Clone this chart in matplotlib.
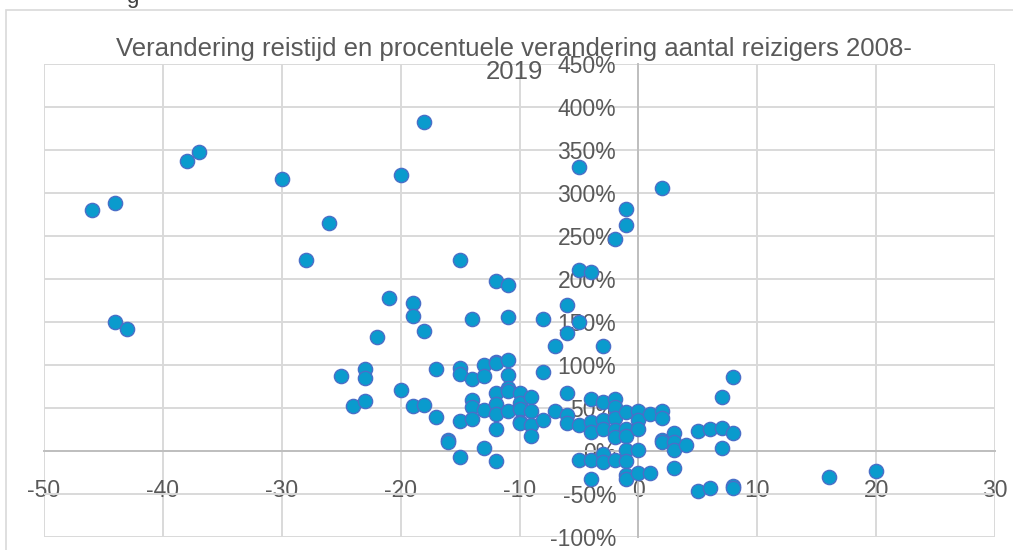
import matplotlib.pyplot as plt
from matplotlib.patches import Rectangle
from matplotlib.ticker import FuncFormatter

plt.rcParams['font.family'] = ['Liberation Sans', 'DejaVu Sans']
plt.rcParams['axes.unicode_minus'] = False

# verandering reistijd (min) per traject en bijbehorende verandering reizigers (%)
reistijd = [
    -46, -44, -44, -43, -38, -37, -30, -28, -26, -25, -24,
    -23, -23, -23, -22, -21, -20, -20,
    -19, -19, -19, -18, -18, -18, -17, -17, -16, -16,
    -15, -15, -15, -15, -15,
    -14, -14, -14, -14, -14,
    -13, -13, -13, -13,
    -12, -12, -12, -12, -12, -12, -12, -12,
    -11, -11, -11, -11, -11, -11, -11,
    -10, -10, -10, -10, -10,
    -9, -9, -9, -9,
    -8, -8, -8, -7, -7,
    -6, -6, -6, -6, -6,
    -5, -5, -5, -5, -5,
    -4, -4, -4, -4, -4, -4,
    -3, -3, -3, -3, -3, -3,
    -2, -2, -2, -2, -2, -2, -2,
    -1, -1, -1, -1, -1, -1, -1, -1, -1,
    0, 0, 0, 0, 0,
    1, 1,
    2, 2, 2, 2, 2,
    3, 3, 3, 3,
    4, 5, 5, 6, 6,
    7, 7, 7,
    8, 8, 8, 8,
    16, 20,
]
reizigers = [
    280, 288, 150, 142, 337, 348, 316, 222, 265, 87, 52,
    95, 85, 58, 133, 178, 321, 71,
    172, 157, 52, 383, 140, 54, 95, 40, 13, 10,
    222, 96, 89, 35, -7,
    154, 84, 59, 51, 37,
    100, 87, 48, 3,
    198, 104, 102, 67, 55, 43, 26, -12,
    193, 156, 106, 88, 73, 70, 47,
    67, 56, 49, 34, 32,
    63, 47, 30, 17,
    154, 92, 36, 122, 47,
    170, 137, 67, 42, 32,
    330, 211, 150, 30, -10,
    208, 61, 34, 22, -10, -33,
    122, 57, 36, 26, -3, -13,
    247, 60, 51, 38, 25, 16, -11,
    281, 263, 45, 26, 18, 1, -12, -28, -32,
    47, 36, 26, 1, -26,
    43, -26,
    306, 47, 38, 13, 10,
    21, 10, 1, -20,
    7, 23, -47, 26, -43,
    63, 27, 3,
    86, 21, -41, -43,
    -30, -23,
]

x_ticks = [-50, -40, -30, -20, -10, 0, 10, 20, 30]
y_ticks = [-100, -50, 0, 50, 100, 150, 200, 250, 300, 350, 400, 450]

fig = plt.figure(figsize=(10.13, 5.5), dpi=100)
ax = fig.add_axes([44 / 1013, 13 / 550, 951 / 1013, 473 / 550])

# rand van het grafiekgebied
fig.patches.append(Rectangle((5.5 / 1013, -0.1), 1.2, 1 - 10 / 550 + 0.1,
                             transform=fig.transFigure, fill=False,
                             edgecolor='#d9d9d9', linewidth=1.2))
# afgesneden letter van de tekst boven de grafiek
fig.text(132 / 1013, 547 / 550, 'g', fontsize=16, color='#404040',
         ha='center', va='baseline')

ax.scatter(reistijd, reizigers, s=105, color='#0a9bcd', edgecolors='#4a6fc8',
           linewidths=1.0, zorder=3, clip_on=False)

ax.set_xlim(-50, 30)
ax.set_ylim(-100, 450)
ax.set_xticks(x_ticks)
ax.set_yticks(y_ticks)
ax.yaxis.set_major_formatter(FuncFormatter(lambda v, p: f'{v:.0f}%'))
ax.grid(True, color='#d9d9d9', linewidth=1.4, zorder=0)
ax.set_axisbelow(True)

for side in ['top', 'right']:
    ax.spines[side].set_visible(False)
ax.spines['left'].set_position(('data', 0))
ax.spines['bottom'].set_position(('data', 0))
for side in ['left', 'bottom']:
    ax.spines[side].set_color('#bfbfbf')
    ax.spines[side].set_linewidth(1.4)
    ax.spines[side].set_zorder(1)

ax.tick_params(axis='both', length=0, labelsize=16.5, labelcolor='#595959')
ax.tick_params(axis='x', pad=20)
ax.tick_params(axis='y', pad=16)
for lbl in ax.get_xticklabels() + ax.get_yticklabels():
    lbl.set_zorder(4)

fig.text(514 / 1013, 1 - 37 / 550,
         'Verandering reistijd en procentuele verandering aantal reizigers 2008-\n2019',
         ha='center', va='top', fontsize=18.5, color='#595959', linespacing=0.95)

fig.savefig('out.png', dpi=100)
